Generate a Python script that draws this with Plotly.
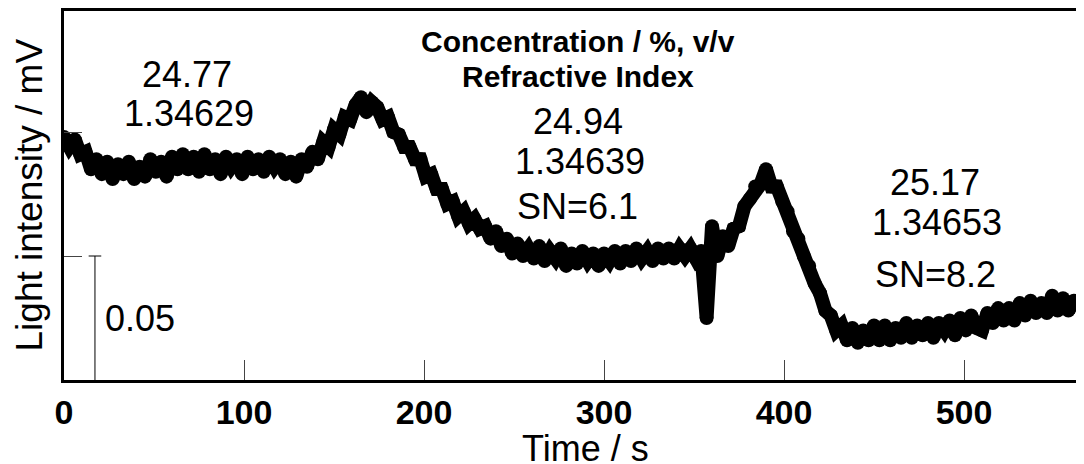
import plotly.graph_objects as go

# ---- data ----
time_s = list(range(0, 562, 3))
intensity = [
    0.098, 0.094, 0.097, 0.091, 0.092, 0.085, 0.089, 0.083, 0.088, 0.081,
    0.087, 0.083, 0.088, 0.081, 0.086, 0.082, 0.089, 0.084, 0.088, 0.082,
    0.090, 0.085, 0.091, 0.085, 0.090, 0.084, 0.091, 0.085, 0.089, 0.083,
    0.090, 0.086, 0.089, 0.083, 0.090, 0.085, 0.089, 0.084, 0.090, 0.086,
    0.089, 0.083, 0.088, 0.082, 0.089, 0.086, 0.092, 0.089, 0.096, 0.094,
    0.101, 0.099, 0.106, 0.105, 0.111, 0.114, 0.108, 0.112, 0.110, 0.105,
    0.106, 0.100, 0.099, 0.094, 0.094, 0.089, 0.089, 0.082, 0.083, 0.077,
    0.077, 0.071, 0.072, 0.066, 0.068, 0.063, 0.065, 0.061, 0.062, 0.057,
    0.060, 0.054, 0.057, 0.051, 0.055, 0.050, 0.053, 0.049, 0.054, 0.048,
    0.052, 0.049, 0.053, 0.046, 0.051, 0.047, 0.052, 0.048, 0.051, 0.046,
    0.051, 0.048, 0.052, 0.047, 0.052, 0.048, 0.053, 0.049, 0.052, 0.048,
    0.053, 0.049, 0.053, 0.049, 0.053, 0.050, 0.053, 0.049, 0.052, 0.025,
    0.062, 0.050, 0.058, 0.054, 0.061, 0.062, 0.070, 0.073, 0.078, 0.079,
    0.085, 0.078, 0.078, 0.072, 0.068, 0.060, 0.057, 0.050, 0.046, 0.039,
    0.035, 0.028, 0.026, 0.020, 0.022, 0.016, 0.021, 0.015, 0.020, 0.016,
    0.022, 0.016, 0.022, 0.016, 0.021, 0.017, 0.023, 0.017, 0.022, 0.018,
    0.023, 0.017, 0.023, 0.020, 0.024, 0.018, 0.025, 0.020, 0.026, 0.021,
    0.020, 0.027, 0.023, 0.029, 0.024, 0.029, 0.024, 0.031, 0.026, 0.032,
    0.027, 0.031, 0.027, 0.034, 0.028, 0.033, 0.028, 0.032,
]
x_ticks = [0, 100, 200, 300, 400, 500]
y_ticks = [0, 0.05, 0.10, 0.15]
scale_bar_time = 17.2
scale_bar_value = 0.05
scale_bar_label = "0.05"

# annotation groups: (text, x[s], y[value], bold)
labels = [
    ("24.77", 68.3, 0.1233, False),
    ("1.34629", 69.4, 0.1075, False),
    ("Concentration / %, v/v", 285.5, 0.1365, True),
    ("Refractive Index", 285.5, 0.1222, True),
    ("24.94", 285.5, 0.1044, False),
    ("1.34639", 286.7, 0.0881, False),
    ("SN=6.1", 285.0, 0.0700, False),
    ("25.17", 483.9, 0.0796, False),
    ("1.34653", 485.0, 0.0635, False),
    ("SN=8.2", 484.4, 0.0425, False),
]

FONT = "Liberation Sans, Arial, sans-serif"
OFF = 8                      # page body margin
W, H = 1084 - OFF, 464 - OFF
ML, MR, MT, MB = 64 - OFF, 0, 11 - OFF, H - (380 - OFF)
pw = W - ML - MR
ph = H - MT - MB
x_max = pw / 1.8
y_max = ph / 2480.0


def px_x(page_x):
    return (page_x - OFF - ML) / pw


def px_y(page_y):
    return ((H - MB) - (page_y - OFF)) / ph


fig = go.Figure()
fig.add_trace(go.Scatter(
    x=time_s, y=intensity, mode="lines+markers",
    line=dict(color="black", width=14),
    marker=dict(color="black", size=14),
    showlegend=False, hoverinfo="skip",
))

# scale bar
fig.add_shape(type="line", xref="x", yref="y",
              x0=scale_bar_time, x1=scale_bar_time, y0=0, y1=scale_bar_value,
              line=dict(color="black", width=1))
fig.add_shape(type="line", xref="x", yref="y",
              x0=scale_bar_time - 3.5, x1=scale_bar_time + 3.5,
              y0=scale_bar_value, y1=scale_bar_value,
              line=dict(color="black", width=1))

ann = []
for text, x, y, bold in labels:
    ann.append(dict(
        text=f"<b>{text}</b>" if bold else text, x=x, y=y, xref="x", yref="y",
        showarrow=False, xanchor="center", yanchor="middle",
        font=dict(family=FONT, size=30 if bold else 36, color="black"),
    ))
ann.append(dict(text=scale_bar_label, x=px_x(103), y=px_y(318),
                xref="paper", yref="paper", showarrow=False, xanchor="left", yanchor="middle",
                font=dict(family=FONT, size=36, color="black")))
# axis titles
ann.append(dict(text="Time / s", x=px_x(585), y=px_y(448),
                xref="paper", yref="paper", showarrow=False,
                xanchor="center", yanchor="middle",
                font=dict(family=FONT, size=36, color="black")))
ann.append(dict(text="Light intensity / mV", x=px_x(29), y=0.5,
                xref="paper", yref="paper", showarrow=False, textangle=-90,
                xanchor="center", yanchor="middle",
                font=dict(family=FONT, size=37, color="black")))

fig.update_layout(
    width=W, height=H,
    margin=dict(l=ML, r=MR, t=MT, b=MB),
    paper_bgcolor="white", plot_bgcolor="white",
    annotations=ann,
    xaxis=dict(range=[0, x_max], tickvals=x_ticks, ticks="inside", ticklen=20,
               tickwidth=1, tickcolor="#444", showline=True, linewidth=3,
               linecolor="black", mirror=True, showgrid=False, zeroline=False,
               tickfont=dict(family=FONT, size=34, color="black", weight="bold"),
               ticklabelstandoff=0),
    yaxis=dict(range=[0, y_max], tickvals=y_ticks, ticks="inside", ticklen=18,
               tickwidth=1, tickcolor="#444", showline=True, linewidth=3,
               linecolor="black", mirror=False, showgrid=False, zeroline=False,
               showticklabels=False),
)
fig.write_html("out.html")
